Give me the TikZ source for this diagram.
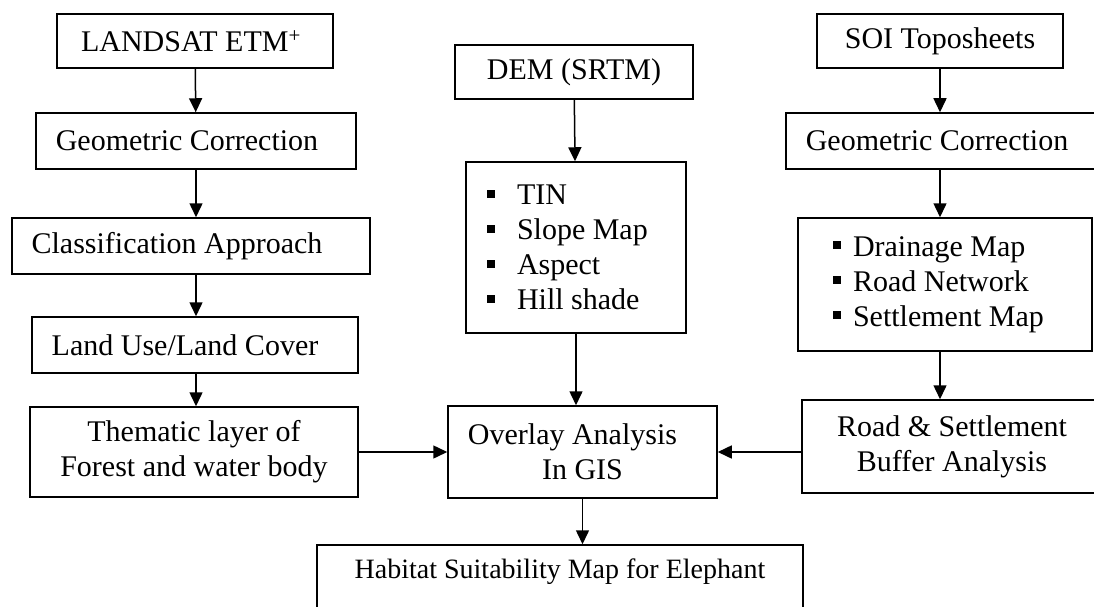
\documentclass[tikz,border=0pt]{standalone}
\usepackage{fontspec}
\setmainfont{Liberation Serif}
\usetikzlibrary{arrows.meta}
\newcommand{\sqbullet}{\rule[7pt]{8pt}{8pt}}

\begin{document}
\begin{tikzpicture}[x=1pt,y=-1pt,
    flowbox/.style = {rectangle,draw=black,line width=1.5pt,inner sep=0pt,font=\fontsize{30}{35}\selectfont,align=center,
                      execute at begin node={\spaceskip=0pt\xspaceskip=0pt}},
    flow/.style = {line width=1.5pt,-{Triangle[length=14pt,width=13pt]}}]
\useasboundingbox (0,0) rectangle (1094,607);
\clip (0,0) rectangle (1094,607);
% left column
\node[flowbox,minimum width=276pt,minimum height=54pt] (landsat) at (195,41) {LANDSAT ETM\textsuperscript{+}\kern8pt};
\node[flowbox,minimum width=320pt,minimum height=56pt] (geoL) at (196,141) {Geometric Correction\kern18pt};
\node[flowbox,minimum width=358pt,minimum height=56pt] (classif) at (191,246) {Classification Approach\kern28pt};
\node[flowbox,minimum width=326pt,minimum height=56pt] (lulc) at (195,345) {Land Use/Land Cover\kern20pt};
\node[flowbox,minimum width=328pt,minimum height=90pt] (thematic) at (194,452) {Thematic layer of\\Forest and water body};
% middle column
\node[flowbox,minimum width=238pt,minimum height=54pt] (dem) at (574,72) {DEM (SRTM)};
\node[flowbox,minimum width=220pt,minimum height=171pt] (demlist) at (576,247.5)
    {\parbox{178pt}{\raggedright\sqbullet\hspace{22pt}TIN\\\sqbullet\hspace{22pt}Slope Map\\\sqbullet\hspace{22pt}Aspect\\\sqbullet\hspace{22pt}Hill shade}};
\node[flowbox,minimum width=269pt,minimum height=92pt] (overlay) at (582.5,452) {Overlay Analysis\kern20pt\\In GIS};
\node[flowbox,font=\fontsize{28}{33}\selectfont,minimum width=486pt,text height=33pt,text depth=60pt,anchor=base] (habitat) at (560,578) {Habitat Suitability Map for Elephant};
% right column
\node[flowbox,minimum width=246pt,minimum height=54pt] (soi) at (940,41) {SOI Toposheets};
\node[flowbox,minimum width=320pt,minimum height=56pt] (geoR) at (946,141) {Geometric Correction\kern18pt};
\node[flowbox,minimum width=294pt,minimum height=133pt] (soilist) at (945,284.5)
    {\parbox{224pt}{\raggedright\sqbullet\hspace{12pt}Drainage Map\\\sqbullet\hspace{12pt}Road Network\\\sqbullet\hspace{12pt}Settlement Map}};
\node[flowbox,minimum width=300pt,minimum height=93pt] (road) at (952,446.5) {Road \& Settlement\\Buffer Analysis};
% arrows
\draw[flow] (landsat) -- (geoL);
\draw[flow] (geoL.south) -- (geoL.south |- classif.north);
\draw[flow] (geoL.south |- classif.south) -- (geoL.south |- lulc.north);
\draw[flow] (geoL.south |- lulc.south) -- (geoL.south |- thematic.north);
\draw[flow] (thematic) -- (overlay);
\draw[flow] (dem) -- (demlist);
\draw[flow] (demlist.south) -- (demlist.south |- overlay.north);
\draw[flow] (overlay.south) -- (overlay.south |- habitat.north);
\draw[flow] (soi.south) -- (soi.south |- geoR.north);
\draw[flow] (soi.south |- geoR.south) -- (soi.south |- soilist.north);
\draw[flow] (soi.south |- soilist.south) -- (soi.south |- road.north);
\draw[flow] (road.west |- overlay.east) -- (overlay.east);
\end{tikzpicture}
\end{document}
